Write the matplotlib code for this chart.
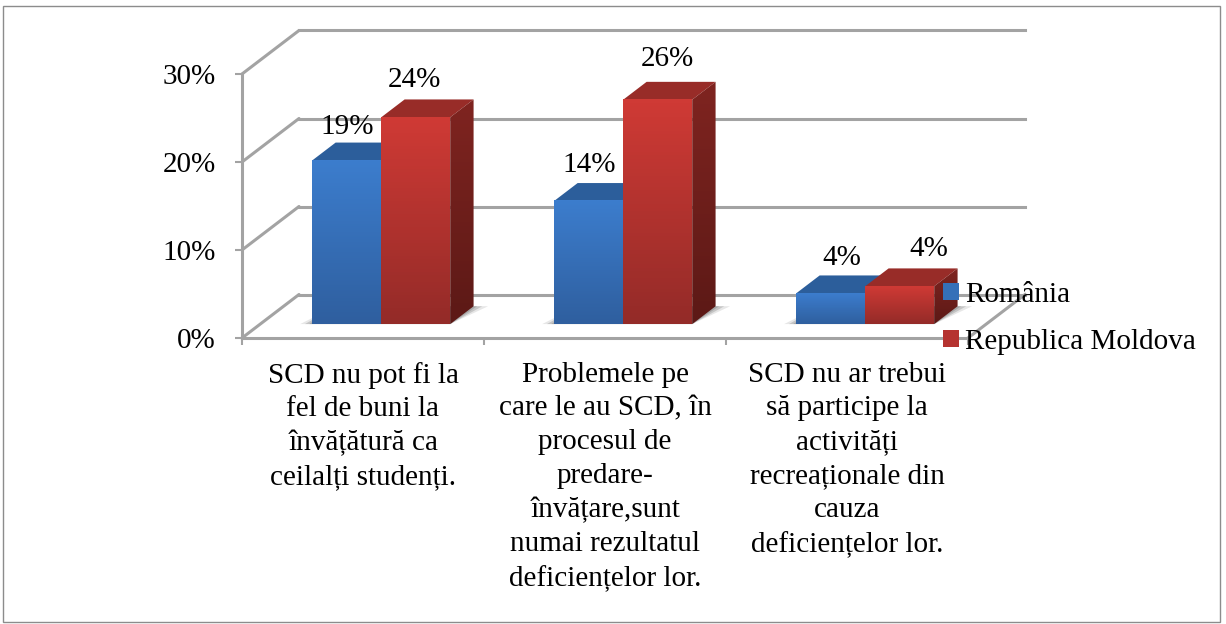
import numpy as np
import matplotlib
matplotlib.use('Agg')
from matplotlib import pyplot as plt
from matplotlib.patches import Patch, Polygon, Rectangle
from matplotlib.colors import LinearSegmentedColormap

plt.rcParams['font.family'] = ['Liberation Serif', 'DejaVu Serif']

categorii = ['SCD nu pot fi la\nfel de buni la\nînvățătură ca\nceilalți studenți.',
             'Problemele pe\ncare le au SCD, în\nprocesul de\npredare-\nînvățare,sunt\nnumai rezultatul\ndeficiențelor lor.',
             'SCD nu ar trebui\nsă participe la\nactivități\nrecreaționale din\ncauza\ndeficiențelor lor.']
romania = [18.6, 14.0, 3.5]
moldova = [23.5, 25.5, 4.3]
et_romania = ['19%', '14%', '4%']
et_moldova = ['24%', '26%', '4%']
y_ticks = [0, 10, 20, 30]

GRI = '#a3a3a3'
FS = 21

# adancimea 3D, in unitati de date
DX = 57 / 242.
DY = 43.5 / 8.8
LATIME = 0.285
BAZA = 0.32   # unde incepe bara pe podea
ADANC = 0.41  # cat de adanca e bara

fig = plt.figure(figsize=(12.26, 6.24), dpi=100)
fig.patches.append(Rectangle((3 / 1226., 2 / 624.), 1217 / 1226., 616 / 624., transform=fig.transFigure,
                             fill=False, edgecolor='#8c8c8c', linewidth=1))
ax = fig.add_axes([242 / 1226., (624 - 338) / 624., 726 / 1226., 264 / 624.])
ax.patch.set_alpha(0)


def fata(bar_x0, bar_x1, y0, y1, c_sus, c_jos, contur=None, z=3):
    cm = LinearSegmentedColormap.from_list('g', [c_sus, c_jos])
    im = ax.imshow(np.linspace(0, 1, 64).reshape(-1, 1), cmap=cm, aspect='auto', zorder=z,
                   extent=(bar_x0, bar_x1, y0, y1), clip_on=True)
    if contur is not None:
        p = Polygon(contur, closed=True, transform=ax.transData, facecolor='none', edgecolor='none')
        ax.add_patch(p)
        im.set_clip_path(p)
    else:
        im.set_clip_on(False)
    return im


def bara_3d(x, val, c_sus, c_jos, c_top, s_sus, s_jos, z):
    x0 = x + BAZA * DX
    x1 = x0 + LATIME
    b = BAZA * DY
    t = b + val
    ddx = ADANC * DX
    ddy = ADANC * DY
    # fata
    ax.bar(x0, val, LATIME, bottom=b, align='edge', color=c_jos, zorder=z, clip_on=False)
    fata(x0, x1, b, t, c_sus, c_jos, z=z + 0.1)
    # capac
    ax.add_patch(Polygon([(x0, t), (x1, t), (x1 + ddx, t + ddy), (x0 + ddx, t + ddy)],
                         facecolor=c_top, edgecolor='none', zorder=z, clip_on=False))
    # lateral
    lat = [(x1, b), (x1, t), (x1 + ddx, t + ddy), (x1 + ddx, b + ddy)]
    fata(x1, x1 + ddx, b, t + ddy, s_sus, s_jos, contur=lat, z=z)


def umbra(x, z=2):
    x0 = x + 0.5 - LATIME + BAZA * DX
    x1 = x0 + 2 * LATIME
    b = BAZA * DY
    ddx = ADANC * DX
    ddy = ADANC * DY
    for a, lat in ((0.15, 1.0), (0.25, 0.6), (0.3, 0.25)):
        ax.add_patch(Polygon([(x0 - 0.05 * lat, b), (x1, b), (x1 + ddx + 0.06 * lat, b + ddy), (x0 + ddx, b + ddy)],
                             facecolor='#606060', alpha=a, edgecolor='none', zorder=z, clip_on=False))


# pereti si podea
for t in y_ticks:
    ax.plot([0, DX], [t, t + DY], color=GRI, lw=2.2, zorder=1, clip_on=False, solid_capstyle='round')
    ax.plot([DX, 3 + DX], [t + DY, t + DY], color=GRI, lw=2.2, zorder=1, clip_on=False)
ax.plot([3, 3 + DX], [0, DY], color=GRI, lw=2.2, zorder=1, clip_on=False)

nudge_ro = [(0, 33), (0, 36), (11, 35)]
nudge_md = [(-1, 37), (10, 41), (29, 37)]

for i in range(len(categorii)):
    umbra(i)
    bara_3d(i + 0.5 - LATIME, romania[i], '#3c7dcd', '#2f5f9f', '#2c5e9b', '#25507f', '#1f4470', 3 + i)
    bara_3d(i + 0.5, moldova[i], '#cf3a35', '#942b28', '#982c28', '#7f2420', '#5c1916', 3.5 + i)

    x0 = i + 0.5 - LATIME + BAZA * DX
    b = BAZA * DY
    ax.annotate(et_romania[i], (x0 + LATIME / 2, b + romania[i]), xytext=(nudge_ro[i][0] * .72, nudge_ro[i][1] * .72),
                textcoords='offset points', ha='center', va='center', fontsize=FS, zorder=20, annotation_clip=False)
    ax.annotate(et_moldova[i], (x0 + LATIME * 1.5, b + moldova[i]), xytext=(nudge_md[i][0] * .72, nudge_md[i][1] * .72),
                textcoords='offset points', ha='center', va='center', fontsize=FS, zorder=20, annotation_clip=False)

ax.set_xlim(0, 3)
ax.set_ylim(0, 30)

ax.set_yticks(y_ticks)
ax.set_yticklabels(['%d%%' % t for t in y_ticks], fontsize=FS)
ax.set_xticks([0, 1, 2, 3])
ax.set_xticklabels([])
ax.set_xticks([0.5, 1.5, 2.5], minor=True)
ax.set_xticklabels(categorii, minor=True, fontsize=FS, linespacing=1.39)
ax.tick_params(axis='both', which='major', color=GRI, width=1.5, length=5)
ax.tick_params(axis='y', pad=14)
ax.tick_params(axis='x', which='minor', length=0, pad=17)

for s in ['top', 'right']:
    ax.spines[s].set_visible(False)
for s in ['left', 'bottom']:
    ax.spines[s].set_color(GRI)
    ax.spines[s].set_linewidth(2.2)

h = [Patch(facecolor='#3570b8', label='România'), Patch(facecolor='#b53330', label='Republica Moldova')]
leg = fig.legend(handles=h, loc='upper left', bbox_to_anchor=(937 / 1226., (624 - 276) / 624.), frameon=False,
                 fontsize=FS, handlelength=0.55, handleheight=0.55, handletextpad=0.22, labelspacing=0.72,
                 borderpad=0.2, borderaxespad=0)
leg.set_zorder(30)

fig.savefig('out.png', dpi=100)
